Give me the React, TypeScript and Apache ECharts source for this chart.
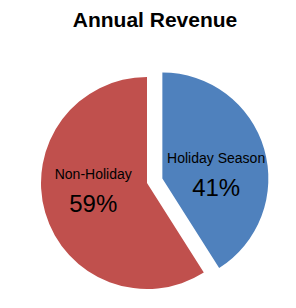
import React, { useEffect, useRef } from "react";
import * as echarts from "echarts";

const categories = ["Holiday Season", "Non-Holiday"];
const values = [41, 59];
const colors = ["#4F81BD", "#C0504D"];
const exploded = [true, false];

export default function App() {
  const ref = useRef<HTMLDivElement>(null);
  useEffect(() => {
    if (!ref.current) return;
    const chart = echarts.init(ref.current, null, { renderer: "svg" });
    const shifts = [
      [0, 14],
      [0, -6],
    ];
    chart.setOption({
      animation: false,
      backgroundColor: "#ffffff",
      title: {
        text: "Annual Revenue",
        left: 150,
        top: 4,
        textAlign: "center",
        textStyle: {
          fontFamily: "Liberation Sans",
          fontWeight: "bold",
          fontSize: 21,
          color: "#000000",
        },
      },
      series: [
        {
          type: "pie",
          center: [147, 183],
          radius: [0, 106],
          startAngle: 90,
          clockwise: true,
          selectedMode: "multiple",
          selectedOffset: 16,
          avoidLabelOverlap: false,
          labelLine: { show: false },
          emphasis: { disabled: true },
          itemStyle: { borderWidth: 0 },
          labelLayout: (p: any) => ({
            dx: shifts[p.dataIndex][0],
            dy: shifts[p.dataIndex][1],
          }),
          label: {
            show: true,
            position: "inside",
            formatter: (p: any) => `{a|${p.name}}\n{b|${Math.round(p.percent)}%}`,
            rich: {
              a: {
                fontFamily: "Liberation Sans",
                fontSize: 14,
                color: "#000000",
                lineHeight: 22,
              },
              b: {
                fontFamily: "Liberation Sans",
                fontSize: 24,
                color: "#000000",
                lineHeight: 38,
              },
            },
          },
          data: categories.map((c, i) => ({
            name: c,
            value: values[i],
            selected: exploded[i],
            itemStyle: { color: colors[i] },
          })),
        },
      ],
    });
    return () => chart.dispose();
  }, []);
  return (
    <div
      ref={ref}
      style={{ position: "fixed", left: 0, top: 0, width: 296, height: 308 }}
    />
  );
}
